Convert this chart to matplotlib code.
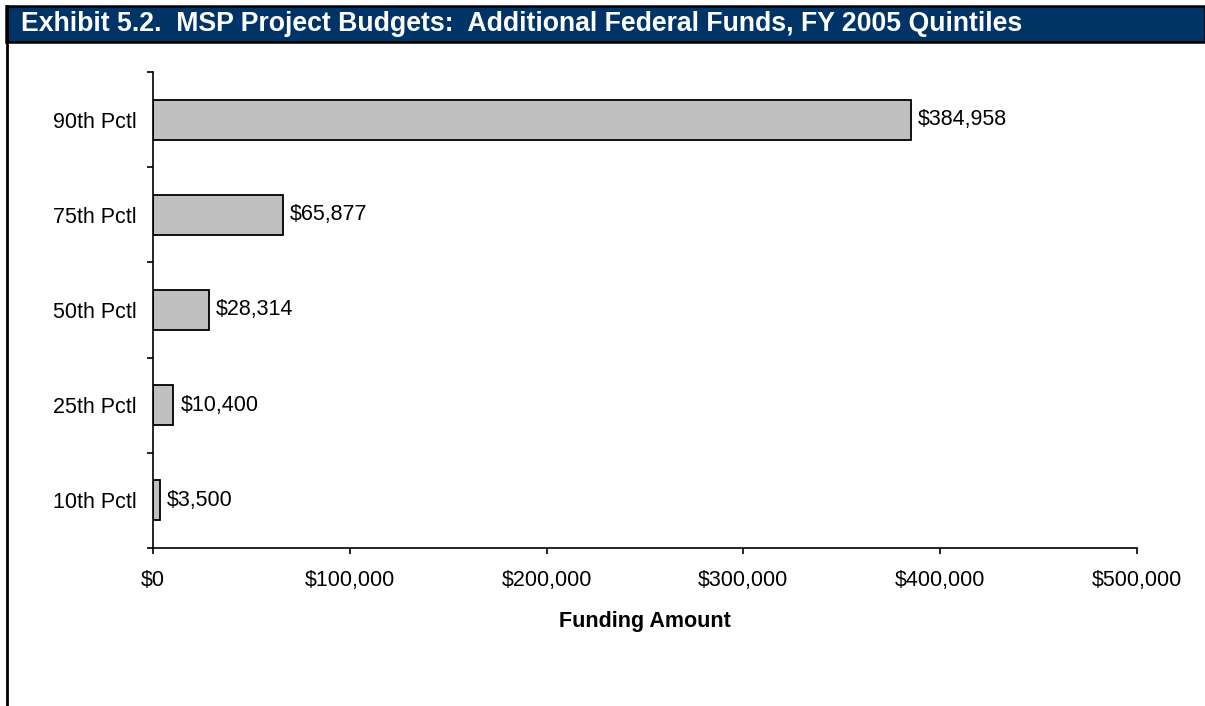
import matplotlib
matplotlib.use("Agg")
import matplotlib.pyplot as plt
from matplotlib.patches import Rectangle
from matplotlib.lines import Line2D
from matplotlib.ticker import FuncFormatter, FixedLocator

categories = ["10th Pctl", "25th Pctl", "50th Pctl", "75th Pctl", "90th Pctl"]
values = [3500, 10400, 28314, 65877, 384958]
xticks = [0, 100000, 200000, 300000, 400000, 500000]
title = "Exhibit 5.2.  MSP Project Budgets:  Additional Federal Funds, FY 2005 Quintiles"
xlabel = "Funding Amount"

plt.rcParams['font.family'] = ['Liberation Sans', 'DejaVu Sans']

W, H = 1205, 706
fig = plt.figure(figsize=(W / 100, H / 100), dpi=100)

def fx(px):
    return px / W

def fy(py):
    return 1 - py / H

FS = 15.5

# Header bar
fig.patches.append(Rectangle((fx(6), fy(42)), 1 - fx(6), fy(6) - fy(42),
                             transform=fig.transFigure, facecolor="#003366",
                             edgecolor="black", linewidth=1.8, zorder=0))
fig.text(fx(21), fy(24), title, color="white", fontsize=19.2, fontweight="bold",
         va="center", ha="left")
# Left border line
fig.lines.append(Line2D([fx(6.5), fx(6.5)], [fy(6), 0], transform=fig.transFigure,
                        color="black", linewidth=2))

ax = fig.add_axes([fx(153), fy(548), fx(1137) - fx(153), fy(72) - fy(548)])
ypos = list(range(len(categories)))
ax.barh(ypos, values, height=0.42, color="#C0C0C0", edgecolor="black", linewidth=1.3)
for y, v in zip(ypos, values):
    ax.annotate(f"${v:,}", (v, y), xytext=(5, 0), textcoords="offset points",
                va="center", ha="left", fontsize=FS)

ax.set_xlim(0, 500000)
ax.set_ylim(-0.5, len(categories) - 0.5)
ax.set_xticks(xticks)
ax.xaxis.set_major_formatter(FuncFormatter(lambda v, p: f"${int(v):,}"))
ax.set_yticks(ypos)
ax.set_yticklabels(categories)
ax.yaxis.set_minor_locator(FixedLocator([i - 0.5 for i in range(len(categories) + 1)]))
ax.tick_params(axis="y", which="major", length=0, pad=11.5, labelsize=FS)
ax.tick_params(axis="y", which="minor", length=4, width=1.2, direction="out")
ax.tick_params(axis="x", which="major", length=4, width=1.2, direction="out", pad=12, labelsize=FS)
for s in ["top", "right"]:
    ax.spines[s].set_visible(False)
for s in ["left", "bottom"]:
    ax.spines[s].set_linewidth(1.2)
ax.set_xlabel(xlabel, fontsize=FS, fontweight="bold", labelpad=14)

fig.savefig("out.png", dpi=100)
